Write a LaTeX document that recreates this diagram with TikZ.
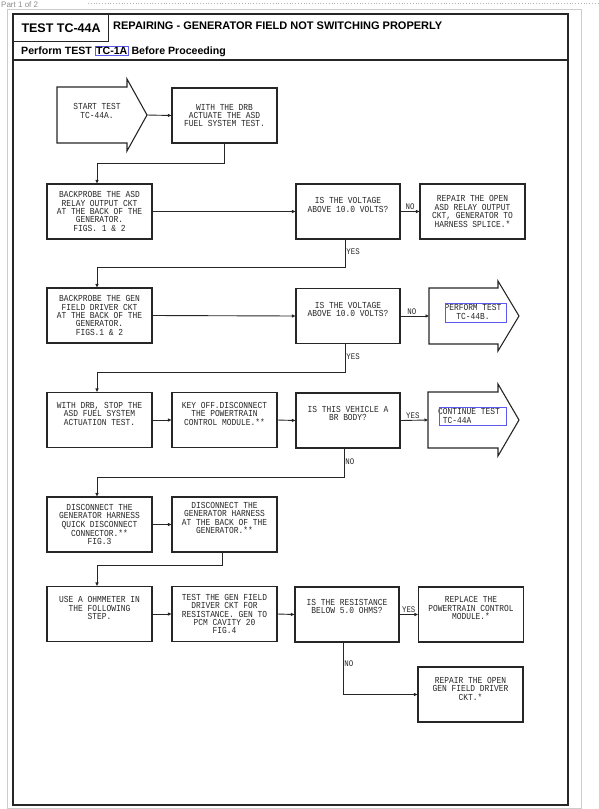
\documentclass[tikz,border=0pt]{standalone}
\usepackage{fontspec}
\setmainfont{Liberation Sans}
\newfontfamily\monof[FakeStretch=0.86]{Liberation Mono}
\usetikzlibrary{arrows.meta}
\definecolor{ink}{HTML}{262626}
\definecolor{hilite}{HTML}{5A5AF0}
\begin{document}
\begin{tikzpicture}[x=1pt,y=-1pt,
  box/.style={draw=ink, line width=1.1pt, minimum width=105pt, minimum height=55pt, inner sep=1pt, align=center, font=\monof\fontsize{9.2}{8.4}\selectfont, text=ink},
  qbox/.style={box, minimum width=104pt},
  txt/.style={inner sep=0pt, align=center, font=\monof\fontsize{9.2}{8.4}\selectfont, text=ink},
  lbl/.style={inner sep=1pt, font=\monof\fontsize{8.6}{8.6}\selectfont, text=ink},
  arr/.style={draw=ink, line width=0.9pt, -{Triangle[length=3.5pt,width=3pt]}},
  shapeline/.style={draw=ink, line width=1.1pt, line join=miter},
  blue/.style={draw=hilite, line width=0.6pt}
]
\useasboundingbox (0,0) rectangle (598,809);
% page decorations
\node[anchor=base west, inner sep=0pt, text=black!45, font=\fontsize{8}{8}\selectfont] (part) at (1,7.5) {Part 1 of 2};
\draw[black!30, dotted, line width=0.8pt] (88,3) -- (598,3);
\draw[black!20, line width=0.8pt] (7,9) rectangle (581,808);
% main frame
\draw[ink, line width=1.3pt] (13,14) rectangle (568,805);
\draw[ink, line width=1.2pt] (13,60) -- (568,60);
\node[draw=ink, line width=1.2pt, anchor=north west, minimum width=95pt, minimum height=27pt, inner sep=0pt, font=\bfseries\fontsize{12.5}{13}\selectfont] (title) at (13,14) {TEST TC-44A};
\node[anchor=west, inner sep=0pt, font=\bfseries\fontsize{11}{12}\selectfont] (head) at (113,26) {REPAIRING - GENERATOR FIELD NOT SWITCHING PROPERLY};
\node[anchor=west, inner sep=0pt, font=\bfseries\fontsize{10.6}{11}\selectfont] (perf) at (21,51) {Perform TEST \tikz[baseline=(t.base)]\node[draw=hilite, line width=0.6pt, inner sep=1pt] (t) {TC-1A};\ Before Proceeding};

% start arrow
\draw[shapeline] (57,87) -- (127,87) -- (127,79) -- (147,115) -- (127,151) -- (127,143) -- (57,143) -- cycle;
\node[txt] (S) at (97,111) {START TEST\\TC-44A.};
\coordinate (Stip) at (147,115);

% row 1
\node[box] (A1) at (224.5,115.5) {WITH THE DRB\\ACTUATE THE ASD\\FUEL SYSTEM TEST.};
% row 2
\node[box] (B1) at (99.5,211.5) {BACKPROBE THE ASD\\RELAY OUTPUT CKT\\AT THE BACK OF THE\\GENERATOR.\\FIGS. 1 \& 2};
\node[qbox] (Q1) at (348,211.5) {IS THE VOLTAGE\\ABOVE 10.0 VOLTS?\\[5pt]};
\node[box] (R1) at (472.5,211.5) {REPAIR THE OPEN\\ASD RELAY OUTPUT\\CKT, GENERATOR TO\\HARNESS SPLICE.*};
% row 3
\node[box] (B2) at (99.5,315.5) {BACKPROBE THE GEN\\FIELD DRIVER CKT\\AT THE BACK OF THE\\GENERATOR.\\FIGS.1 \& 2};
\node[qbox] (Q2) at (348,316) {IS THE VOLTAGE\\ABOVE 10.0 VOLTS?\\[5pt]};
\draw[shapeline] (429,288) -- (498,288) -- (498,281) -- (519,316) -- (498,351) -- (498,344) -- (429,344) -- cycle;
\coordinate (Pin) at (429,316);
\node[txt] (P) at (473,312) {PERFORM TEST\\TC-44B.};
\draw[blue] (445,303) rectangle (506,322);
% row 4
\node[box] (C1) at (99.5,420) {WITH DRB, STOP THE\\ASD FUEL SYSTEM\\ACTUATION TEST.\\[4pt]};
\node[box] (C2) at (224.5,420) {KEY OFF.DISCONNECT\\THE POWERTRAIN\\CONTROL MODULE.**\\[4pt]};
\node[qbox] (Q3) at (348,420.5) {IS THIS VEHICLE A\\BR BODY?\\[6pt]};
\draw[shapeline] (428,392) -- (498,392) -- (498,384) -- (519,420) -- (498,456) -- (498,448) -- (428,448) -- cycle;
\coordinate (Cin) at (428,420);
\node[txt, align=left, anchor=west] (CT) at (438,416) {CONTINUE TEST\\\ TC-44A};
\draw[blue] (439,407) rectangle (506,425);
% row 5
\node[box] (D1) at (99.5,524.5) {DISCONNECT THE\\GENERATOR HARNESS\\QUICK DISCONNECT\\CONNECTOR.**\\FIG.3};
\node[box] (D2) at (224.5,524.5) {DISCONNECT THE\\GENERATOR HARNESS\\AT THE BACK OF THE\\GENERATOR.**\\[5pt]};
% row 6
\node[box] (E1) at (99.5,614) {USE A OHMMETER IN\\THE FOLLOWING\\STEP.\\[3pt]};
\node[box] (E2) at (224.5,614) {TEST THE GEN FIELD\\DRIVER CKT FOR\\RESISTANCE. GEN TO\\PCM CAVITY 20\\FIG.4};
\node[qbox] (Q4) at (347,614.5) {IS THE RESISTANCE\\BELOW 5.0 OHMS?\\[8pt]};
\node[box] (F1) at (471,614.5) {REPLACE THE\\POWERTRAIN CONTROL\\MODULE.*\\[4pt]};
\node[box] (F2) at (470.5,694.5) {REPAIR THE OPEN\\GEN FIELD DRIVER\\CKT.*\\[3pt]};

% connectors
\draw[arr] (Stip) -- (A1.west);
\draw[arr] (A1.south) -- ++(0,20) -| ([xshift=-2.5pt]B1.north);
\draw[arr] (B1.east) -- (Q1.west);
\draw[arr] (Q1.east) -- node[lbl, above, pos=0.5] (n1) {NO} (R1.west);
\draw[arr] ([xshift=-3pt]Q1.south) -- node[lbl, right, pos=0.45] (y1) {YES} ++(0,28) -| ([xshift=-2.5pt]B2.north);
\draw[arr] (B2.east) -- (Q2.west);
\draw[arr] (Q2.east) -- node[lbl, above, pos=0.4] (n2) {NO} (Pin);
\draw[arr] ([xshift=-3pt]Q2.south) -- node[lbl, right, pos=0.45] (y2) {YES} ++(0,28) -| ([xshift=-2.5pt]C1.north);
\draw[arr] (C1.east) -- (C2.west);
\draw[arr] (C2.east) -- (Q3.west);
\draw[arr] (Q3.east) -- node[lbl, above, pos=0.45] (y3) {YES} (Cin);
\draw[arr] ([xshift=-4pt]Q3.south) -- node[lbl, right, pos=0.45] (n3) {NO} ++(0,28.5) -| ([xshift=-2.5pt]D1.north);
\draw[arr] (D1.east) -- (D2.west);
\draw[arr] ([xshift=-2.5pt]D2.south) -- ++(0,12.5) -| ([xshift=-2.5pt]E1.north);
\draw[arr] (E1.east) -- (E2.west);
\draw[arr] (E2.east) -- (Q4.west);
\draw[arr] (Q4.east) -- node[lbl, above, pos=0.5] (y4) {YES} (F1.west);
\draw[arr] ([xshift=-4pt]Q4.south) |- node[lbl, right, pos=0.2] (n4) {NO} (F2.west);
\end{tikzpicture}
\end{document}
